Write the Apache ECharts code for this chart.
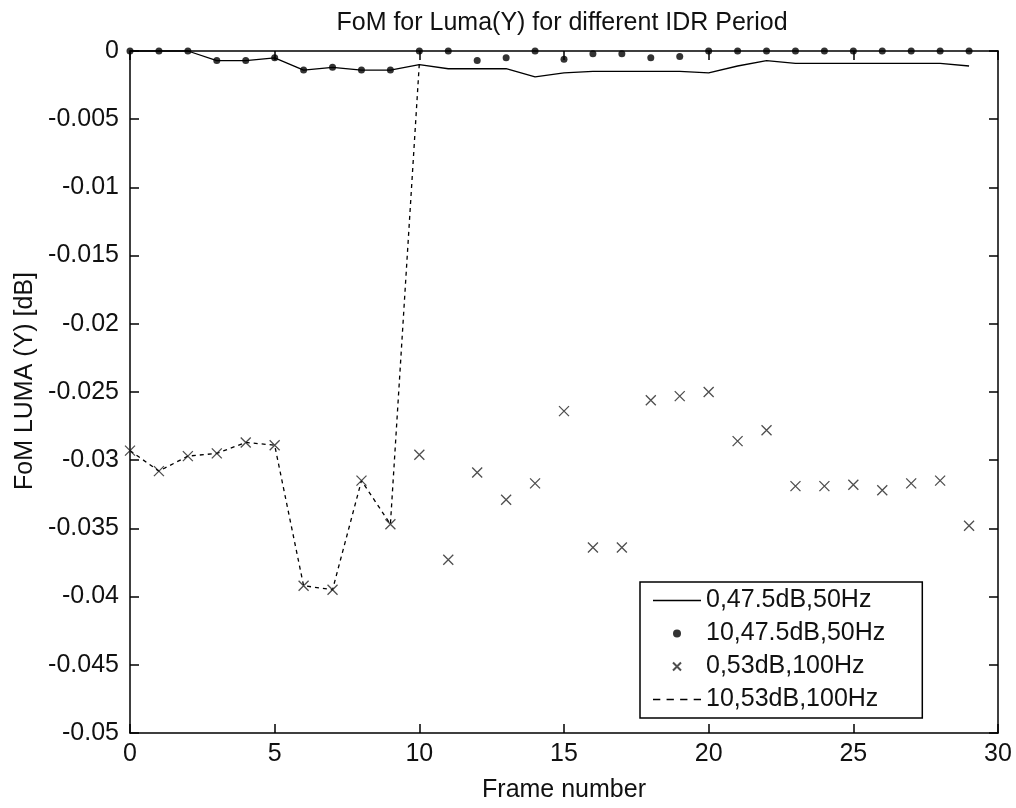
<!DOCTYPE html>
<html>
<head>
<meta charset="utf-8">
<script src="https://cdn.jsdelivr.net/npm/echarts@6/dist/echarts.min.js"></script>
<style>
  html, body { margin: 0; padding: 0; background: #fff; }
  #chart { width: 1016px; height: 808px; }
</style>
</head>
<body>
<div id="chart"></div>
<script>
const frames = [0,1,2,3,4,5,6,7,8,9,10,11,12,13,14,15,16,17,18,19,20,21,22,23,24,25,26,27,28,29];
const xTicks = [0,5,10,15,20,25,30];
const seriesNames = ['0,47.5dB,50Hz', '10,47.5dB,50Hz', '0,53dB,100Hz', '10,53dB,100Hz'];
const solid_0_475 = [0,0,0,-0.0007,-0.0007,-0.0005,-0.0014,-0.0012,-0.0014,-0.0014,-0.0010,-0.0013,-0.0013,-0.0013,-0.0019,-0.0016,-0.0015,-0.0015,-0.0015,-0.0015,-0.0016,-0.0011,-0.0007,-0.0009,-0.0009,-0.0009,-0.0009,-0.0009,-0.0009,-0.0011];
const dots_10_475 = [0,0,0,-0.0007,-0.0007,-0.0005,-0.0014,-0.0012,-0.0014,-0.0014,0,0,-0.0007,-0.0005,0,-0.0006,-0.0002,-0.0002,-0.0005,-0.0004,0,0,0,0,0,0,0,0,0,0];
const cross_0_53 = [-0.0293,-0.0308,-0.0297,-0.0295,-0.0287,-0.0289,-0.0392,-0.0395,-0.0315,-0.0347,-0.0296,-0.0373,-0.0309,-0.0329,-0.0317,-0.0264,-0.0364,-0.0364,-0.0256,-0.0253,-0.0250,-0.0286,-0.0278,-0.0319,-0.0319,-0.0318,-0.0322,-0.0317,-0.0315,-0.0348];
const dashed_10_53 = [-0.0293,-0.0308,-0.0297,-0.0295,-0.0287,-0.0289,-0.0392,-0.0395,-0.0315,-0.0347,-0.0009];

const pairs = (xs, ys) => ys.map((v, i) => [xs[i], v]);
const FONT = '"Liberation Sans", Arial, sans-serif';
const TXT = '#111';

const chart = echarts.init(document.getElementById('chart'), null, { renderer: 'canvas' });

function axisBase(extra) {
  return Object.assign({
    axisLine: { show: true, onZero: false, lineStyle: { color: '#000', width: 1.5 } },
    axisTick: { show: true, inside: true, length: 9, lineStyle: { color: '#000', width: 1.5 } },
    splitLine: { show: false }
  }, extra);
}

const xTick = () => ({ show: true, inside: true, length: 9, customValues: xTicks.slice(), lineStyle: { color: '#000', width: 1.5 } });

const solidIcon = 'path://M0,0L46,0L46,1.4L0,1.4Z';
const dashIcon = 'path://M0,0h7v1.4h-7z M13,0h7v1.4h-7z M26,0h7v1.4h-7z M39,0h7v1.4h-7z';

chart.setOption({
  animation: false,
  backgroundColor: '#fff',
  title: {
    text: 'FoM for Luma(Y) for different IDR Period',
    left: 557,
    top: 6,
    textAlign: 'center',
    textStyle: { fontFamily: FONT, fontSize: 25, fontWeight: 'normal', color: TXT }
  },
  grid: { left: 130, right: 18, top: 51, bottom: 73, containLabel: false },
  xAxis: [
    axisBase({
      type: 'value', min: 0, max: 30, interval: 5, position: 'bottom',
      name: 'Frame number', nameLocation: 'middle', nameGap: 45,
      nameTextStyle: { fontFamily: FONT, fontSize: 25, color: TXT },
      axisTick: xTick(),
      axisLabel: { margin: 9, fontFamily: FONT, fontSize: 25, color: TXT }
    }),
    axisBase({
      type: 'value', min: 0, max: 30, interval: 5, position: 'top',
      axisTick: xTick(),
      axisLabel: { show: false }
    })
  ],
  yAxis: [
    axisBase({
      type: 'value', min: -0.05, max: 0, interval: 0.005, position: 'left',
      name: 'FoM LUMA (Y) [dB]', nameLocation: 'middle', nameGap: 90, nameRotate: 90,
      nameTextStyle: { fontFamily: FONT, fontSize: 25, color: TXT, padding: [0, 0, 0, 22] },
      axisLabel: {
        margin: 11, fontFamily: FONT, fontSize: 25, color: TXT,
        formatter: v => String(parseFloat(v.toFixed(3)))
      }
    }),
    axisBase({
      type: 'value', min: -0.05, max: 0, interval: 0.005, position: 'right',
      axisLabel: { show: false }
    })
  ],
  legend: {
    orient: 'vertical',
    left: 640,
    top: 582,
    padding: [6, 37, 6, 13],
    itemGap: 8,
    itemWidth: 48,
    itemHeight: 8,
    borderColor: '#000',
    borderWidth: 1.5,
    backgroundColor: '#fff',
    textStyle: { fontFamily: FONT, fontSize: 25, color: TXT, lineHeight: 25 },
    data: [
      { name: seriesNames[0], icon: solidIcon, itemStyle: { color: '#000' } },
      { name: seriesNames[1] },
      { name: seriesNames[2] },
      { name: seriesNames[3], icon: dashIcon, itemStyle: { color: '#000' } }
    ]
  },
  series: [
    {
      name: seriesNames[0], type: 'line', data: pairs(frames, solid_0_475),
      symbol: 'none', lineStyle: { color: '#000', width: 1.3, type: 'solid' },
      itemStyle: { color: '#000' }, clip: false, z: 3
    },
    {
      name: seriesNames[1], type: 'scatter', data: pairs(frames, dots_10_475),
      symbol: 'circle', symbolSize: 7, itemStyle: { color: '#000' }, clip: false, z: 4
    },
    {
      name: seriesNames[2], type: 'scatter', data: pairs(frames, cross_0_53),
      symbol: 'path://M0,0L10,10M10,0L0,10', symbolSize: 10,
      itemStyle: { color: 'transparent', borderColor: '#222', borderWidth: 1.3 },
      clip: false, z: 4
    },
    {
      name: seriesNames[3], type: 'line', data: pairs(frames, dashed_10_53),
      symbol: 'none', lineStyle: { color: '#000', width: 1.3, type: [4, 4] },
      itemStyle: { color: '#000' }, clip: false, z: 3
    }
  ]
});
</script>
</body>
</html>
